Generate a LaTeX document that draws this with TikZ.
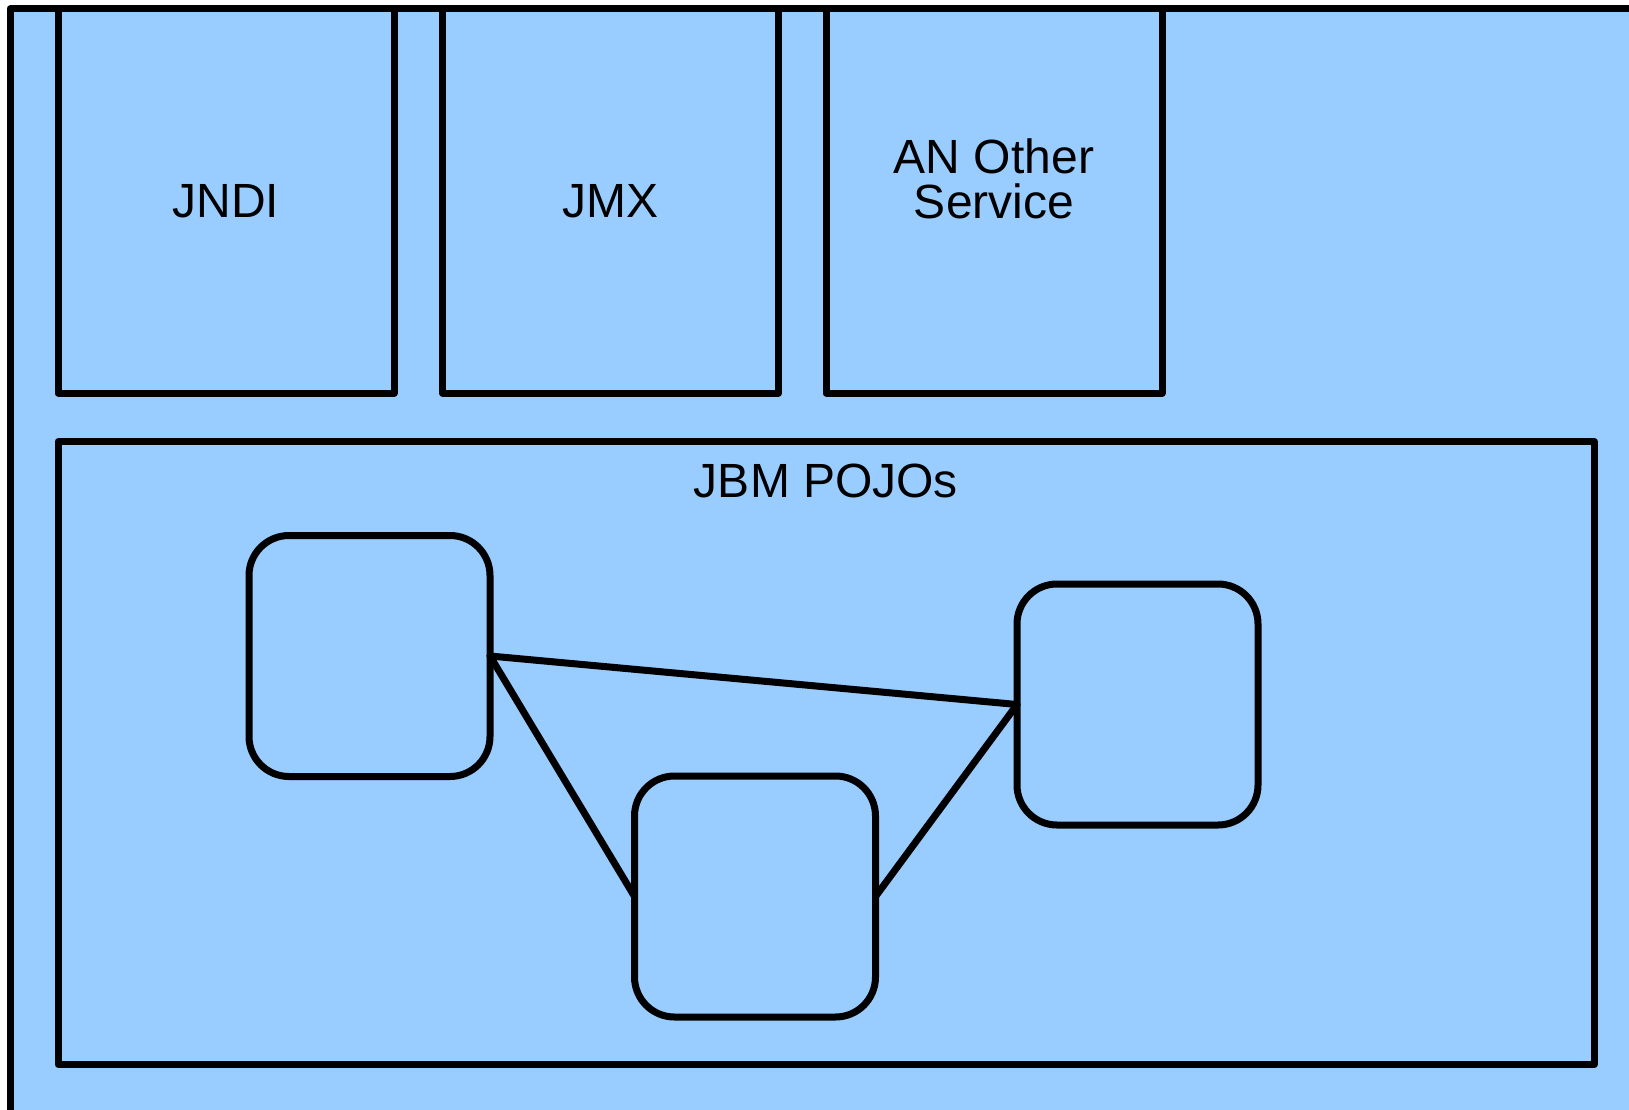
\documentclass[tikz,border=0pt]{standalone}
\usepackage{fontspec}
\setmainfont{Liberation Sans}
\definecolor{boxblue}{HTML}{99CCFF}
\tikzset{
  base/.style={draw=black, fill=boxblue, line width=7pt, line join=round, inner sep=0pt, outer sep=0pt},
  svcbox/.style={base, rectangle, minimum width=336pt, minimum height=384pt, align=center, font=\fontsize{48}{45}\selectfont},
  pojo/.style={base, rectangle, rounded corners=40pt, minimum width=241pt, minimum height=241pt},
  link/.style={draw=black, line width=7pt, line cap=round},
  lbl/.style={font=\fontsize{48}{45}\selectfont, inner sep=0pt, align=center}
}
\begin{document}
\begin{tikzpicture}[x=1pt,y=-1pt]
\useasboundingbox (0,0) rectangle (1629,1110);
\fill[white] (0,0) rectangle (1629,1110);
\node[base, minimum width=1700pt, minimum height=1200pt, anchor=north west] (outer) at (10,9) {};
\node[svcbox] (jndi) at (226,201) {JNDI};
\node[svcbox] (jmx) at (610.5,201) {JMX};
\node[svcbox] (other) at (994,201) {};
\node[lbl] (otherlbl) at (994,179) {AN Other\\Service};
\node[base, rectangle, minimum width=1536pt, minimum height=623pt] (pojos) at (826,753) {};
\node[lbl] (pojolbl) at (826,481) {JBM POJOs};
\node[pojo] (p1) at (369.5,656) {};
\node[pojo] (p2) at (755,896.5) {};
\node[pojo] (p3) at (1137.5,704.5) {};
\draw[link] (p1.east) -- (p3.west);
\draw[link] (p1.east) -- (p2.west);
\draw[link] (p2.east) -- (p3.west);
\end{tikzpicture}
\end{document}
